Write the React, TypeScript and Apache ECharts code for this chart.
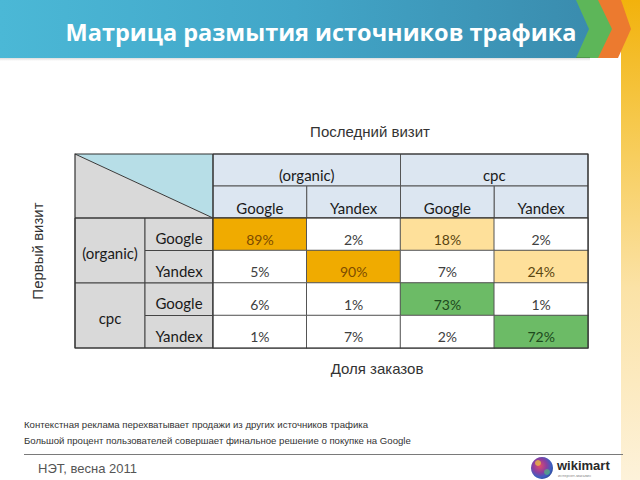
import { useEffect, useRef } from 'react';
import * as echarts from 'echarts';

// ---------- data ----------
const slideTitle = 'Матрица размытия источников трафика';
const colGroups = ['(organic)', 'cpc'];
const sources = ['Google', 'Yandex'];
const rowGroups = ['(organic)', 'cpc'];
const colCategories = ['(organic) Google', '(organic) Yandex', 'cpc Google', 'cpc Yandex'];
const rowCategories = ['(organic) Google', '(organic) Yandex', 'cpc Google', 'cpc Yandex'];
// rows = first visit, columns = last visit, share of orders, %
const shares = [
  [89, 2, 18, 2],
  [5, 90, 7, 24],
  [6, 1, 73, 1],
  [1, 7, 2, 72],
];
const topAxisLabel = 'Последний визит';
const leftAxisLabel = 'Первый визит';
const bottomLabel = 'Доля заказов';
const notes = [
  'Контекстная реклама перехватывает продажи из других источников трафика',
  'Большой процент пользователей совершает финальное решение о покупке на Google',
];
const footerText = 'НЭТ, весна 2011';
const logoText = 'wikimart';
const logoTagline = 'интернет-магазин';

// ---------- layout ----------
const L = 75;
const X1 = 145;
const X2 = 213;
const R = 588;
const T = 154;
const H1 = 186;
const H2 = 218;
const B = 348;
const colW = (R - X2) / 4;
const rowH = (B - H2) / 4;
const FONT = 'Lato, "Open Sans", sans-serif';
const SANS = '"Liberation Sans", Arial, sans-serif';

function textColorFor(v: number) {
  if (v >= 85) return '#7d4c00';
  if (v >= 60) return '#1d4a1d';
  if (v >= 10) return '#5a4510';
  return '#404040';
}

export default function App() {
  const ref = useRef<HTMLDivElement>(null);
  useEffect(() => {
    if (!ref.current) return;
    const chart = echarts.init(ref.current, null, { renderer: 'svg' });

    const heatData: any[] = [];
    shares.forEach((row, r) =>
      row.forEach((v, c) =>
        heatData.push({ value: [c, r, v], label: { color: textColorFor(v) } })
      )
    );

    const g: any[] = [];
    // right yellow band
    g.push({
      type: 'rect', shape: { x: 621, y: 0, width: 19, height: 480 }, silent: true,
      style: {
        fill: new echarts.graphic.LinearGradient(0, 0, 0, 1, [
          { offset: 0, color: '#f2b20c' },
          { offset: 0.25, color: '#f6c84a' },
          { offset: 0.6, color: '#fbe2a6' },
          { offset: 1, color: '#fdf2da' },
        ]),
      },
    });
    // orange chevron
    g.push({ type: 'polygon', silent: true, shape: { points: [[594, 0], [621, 0], [631, 29], [618, 58], [594, 58]] }, style: { fill: '#ec7a2f' } });
    // green chevron
    g.push({ type: 'polygon', silent: true, shape: { points: [[570, 0], [598, 0], [612, 29], [598, 58], [570, 58]] }, style: { fill: '#5db659' } });
    // shadow
    g.push({
      type: 'rect', silent: true, shape: { x: 0, y: 57, width: 590, height: 4 },
      style: { fill: new echarts.graphic.LinearGradient(0, 0, 0, 1, [{ offset: 0, color: 'rgba(0,0,0,0.18)' }, { offset: 1, color: 'rgba(0,0,0,0)' }]) },
    });
    // blue banner
    g.push({
      type: 'polygon', silent: true, shape: { points: [[0, 0], [576, 0], [589, 29], [576, 58], [0, 58]] },
      style: {
        fill: new echarts.graphic.LinearGradient(0, 0, 1, 0, [
          { offset: 0, color: '#4bb8d6' },
          { offset: 0.5, color: '#42a6c8' },
          { offset: 1, color: '#3a8cae' },
        ]),
      },
    });
    g.push({
      type: 'text', x: 321, y: 32, silent: true,
      style: { text: slideTitle, fill: '#ffffff', font: `bold 23.5px "Open Sans", sans-serif`, textAlign: 'center', textVerticalAlign: 'middle' },
    });

    // axis labels
    g.push({ type: 'text', x: 370, y: 131, style: { text: topAxisLabel, fill: '#333', font: `15px ${SANS}`, textAlign: 'center', textVerticalAlign: 'middle' } });
    g.push({ type: 'text', x: 377, y: 368, style: { text: bottomLabel, fill: '#333', font: `15px ${SANS}`, textAlign: 'center', textVerticalAlign: 'middle' } });
    g.push({ type: 'text', x: 37, y: 251, rotation: Math.PI / 2, style: { text: leftAxisLabel, fill: '#333', font: `15px ${SANS}`, textAlign: 'center', textVerticalAlign: 'middle' } });

    // corner cell
    g.push({ type: 'polygon', shape: { points: [[L, T], [X2, T], [X2, H2]] }, style: { fill: '#b7dee7' } });
    g.push({ type: 'polygon', shape: { points: [[L, T], [L, H2], [X2, H2]] }, style: { fill: '#d9d9d9' } });
    g.push({ type: 'line', shape: { x1: L, y1: T, x2: X2, y2: H2 }, style: { stroke: '#3a3a3a', lineWidth: 1 } });

    const cellText = (x: number, y: number, text: string) => ({
      type: 'text', x, y, z: 5,
      style: { text, fill: '#1a1a1a', font: `15px ${FONT}`, textAlign: 'center', textVerticalAlign: 'middle' },
    });

    // column headers
    colGroups.forEach((name, i) => {
      const x = X2 + i * colW * 2;
      g.push({ type: 'rect', shape: { x, y: T, width: colW * 2, height: H1 - T }, style: { fill: '#dce6f1', stroke: '#555', lineWidth: 1 } });
      g.push(cellText(x + colW, (T + H1) / 2 + 5, name));
      sources.forEach((s, j) => {
        const sx = x + j * colW;
        g.push({ type: 'rect', shape: { x: sx, y: H1, width: colW, height: H2 - H1 }, style: { fill: '#dce6f1', stroke: '#555', lineWidth: 1 } });
        g.push(cellText(sx + colW / 2, (H1 + H2) / 2 + 6, s));
      });
    });
    // row headers
    rowGroups.forEach((name, i) => {
      const y = H2 + i * rowH * 2;
      g.push({ type: 'rect', shape: { x: L, y, width: X1 - L, height: rowH * 2 }, style: { fill: '#d9d9d9', stroke: '#444', lineWidth: 1 } });
      g.push(cellText((L + X1) / 2, y + rowH + 2, name));
      sources.forEach((s, j) => {
        const sy = y + j * rowH;
        g.push({ type: 'rect', shape: { x: X1, y: sy, width: X2 - X1, height: rowH }, style: { fill: '#d9d9d9', stroke: '#444', lineWidth: 1 } });
        g.push(cellText((X1 + X2) / 2, sy + rowH / 2 + 4, s));
      });
    });
    // outer border
    g.push({ type: 'rect', z: 20, shape: { x: L, y: T, width: R - L, height: B - T }, style: { fill: 'none', stroke: '#333', lineWidth: 1.2 } });
    g.push({ type: 'line', z: 20, shape: { x1: L, y1: H2, x2: R, y2: H2 }, style: { stroke: '#333', lineWidth: 1.2 } });
    g.push({ type: 'line', z: 20, shape: { x1: X2, y1: T, x2: X2, y2: B }, style: { stroke: '#333', lineWidth: 1.2 } });

    // notes
    notes.forEach((n, i) => {
      g.push({ type: 'text', x: 24, y: 424 + i * 16, style: { text: n, fill: '#333', font: `9.6px ${SANS}`, textVerticalAlign: 'middle' } });
    });
    g.push({ type: 'line', shape: { x1: 24, y1: 454.5, x2: 623, y2: 454.5 }, style: { stroke: '#7a7a7a', lineWidth: 1 } });
    g.push({ type: 'text', x: 38, y: 468, style: { text: footerText, fill: '#555', font: `13px ${SANS}`, textVerticalAlign: 'middle' } });

    // logo
    g.push({
      type: 'circle', shape: { cx: 542, cy: 468, r: 11 },
      style: {
        fill: new echarts.graphic.RadialGradient(0.4, 0.4, 0.7, [
          { offset: 0, color: '#e24a6a' },
          { offset: 0.45, color: '#8a3fa0' },
          { offset: 0.75, color: '#3c5fc0' },
          { offset: 1, color: '#2a3f8a' },
        ]),
      },
    });
    g.push({ type: 'circle', shape: { cx: 538, cy: 463, r: 3 }, style: { fill: 'rgba(240,200,60,0.7)' } });
    g.push({ type: 'circle', shape: { cx: 547, cy: 472, r: 3 }, style: { fill: 'rgba(80,200,120,0.6)' } });
    g.push({ type: 'text', x: 557, y: 465, style: { text: logoText, fill: '#2a2a2a', font: `bold 13px ${SANS}`, textVerticalAlign: 'middle' } });
    g.push({ type: 'text', x: 558, y: 475, style: { text: logoTagline, fill: '#888', font: `4px ${SANS}`, textVerticalAlign: 'middle' } });

    chart.setOption({
      animation: false,
      backgroundColor: '#ffffff',
      grid: { left: X2, top: H2, width: R - X2, height: B - H2 },
      xAxis: { type: 'category', data: colCategories, show: false },
      yAxis: { type: 'category', data: rowCategories, inverse: true, show: false },
      visualMap: {
        type: 'piecewise', show: false, dimension: 2,
        pieces: [
          { gte: 85, color: '#f0ab00' },
          { gte: 60, lt: 85, color: '#6cbb66' },
          { gte: 10, lt: 60, color: '#fee09a' },
          { lt: 10, color: '#ffffff' },
        ],
      },
      series: [
        {
          type: 'heatmap',
          data: heatData,
          silent: true,
          itemStyle: { borderColor: '#555', borderWidth: 1 },
          label: {
            show: true,
            formatter: (p: any) => `${p.value[2]}%`,
            fontFamily: FONT,
            fontSize: 14,
            offset: [0, 5],
          },
          emphasis: { disabled: true },
        },
      ],
      graphic: g,
    });
    return () => chart.dispose();
  }, []);
  return <div ref={ref} style={{ position: 'fixed', left: 0, top: 0, width: 640, height: 480 }} />;
}
